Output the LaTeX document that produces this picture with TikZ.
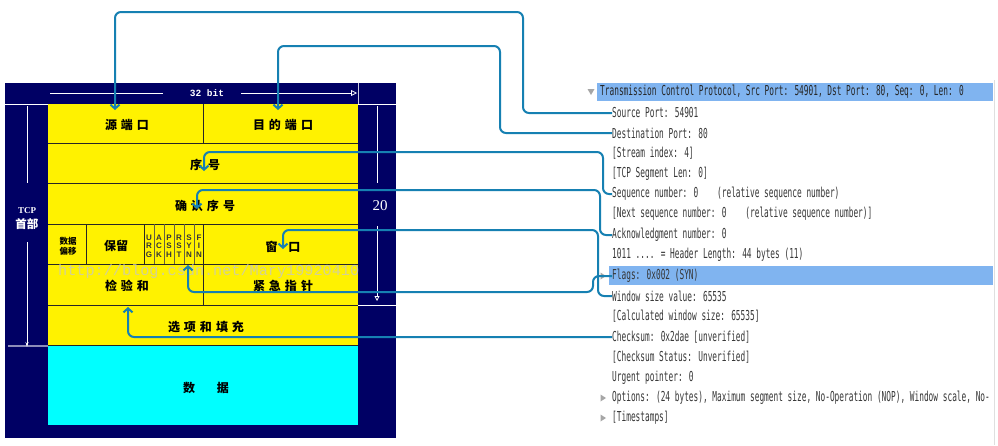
\documentclass[tikz,border=0pt]{standalone}
\usepackage{fontspec}
\setmainfont{Liberation Serif}
\newfontfamily\cjk{Noto Sans CJK SC}
\newfontfamily\wsfont[FakeStretch=0.57]{DejaVu Sans Mono}
\newfontfamily\monofont{Liberation Mono}
\newfontfamily\lsans{Liberation Sans}
\usetikzlibrary{arrows.meta}
\definecolor{navy}{RGB}{0,0,100}
\definecolor{aqua}{RGB}{0,255,255}
\definecolor{linkblue}{RGB}{22,128,178}
\definecolor{hlblue}{RGB}{128,180,240}
\definecolor{txtgray}{RGB}{55,55,55}
\newcommand{\gp}{\hspace{4pt}}
\tikzset{
  connector/.style={draw=linkblue, line width=2pt, rounded corners=6pt,
    -{Straight Barb[length=4pt,width=9pt]}},
  cell/.style={font=\cjk\bfseries\fontsize{12}{12}\selectfont, inner sep=0pt, text=black},
  smallcell/.style={font=\cjk\bfseries\fontsize{8.5}{10}\selectfont, inner sep=0pt, align=center},
  flag/.style={font=\lsans\bfseries\fontsize{8}{8.7}\selectfont, inner sep=0pt, align=center, text=black!80},
  wsline/.style={font=\wsfont\fontsize{13.7}{13.7}\selectfont, text=txtgray, anchor=west, inner sep=0pt},
  tablerule/.style={draw=black!85, line width=0.9pt},
  whiterule/.style={draw=white, line width=0.8pt},
  expander/.style={fill=gray!70, draw=none},
}
\begin{document}
\begin{tikzpicture}[x=1pt,y=-1pt]
\useasboundingbox (0,0) rectangle (998,445);
\fill[white] (0,0) rectangle (998,445);

% ---------- left TCP header diagram ----------
\fill[navy] (5,83) rectangle (396,438);
\fill[yellow] (48,104) rectangle (358,345);
\fill[aqua] (48,345) rectangle (358,425);

% table rules
\foreach \yy in {143,183,224,264,305} \draw[tablerule] (48,\yy) -- (358,\yy);
\draw[tablerule] (48,345) -- (358,345);
\draw[tablerule] (203,104) -- (203,143);
\draw[tablerule] (86,224) -- (86,264);
\draw[tablerule] (144,224) -- (144,264);
\foreach \xx in {154,164,174,184,194} \draw[draw=black!70!yellow, line width=0.8pt] (\xx,224) -- (\xx,264);
\draw[tablerule] (203,224) -- (203,305);

% top row: 32 bit
\draw[whiterule] (50,93) -- (163,93);
\draw[whiterule, -{Triangle[open,length=6pt,width=6pt]}] (241,93) -- (357,93);
\node[font=\monofont\bfseries\fontsize{9.5}{9.5}\selectfont, text=white, inner sep=0pt] (bits) at (207,93) {32 bit};
\draw[draw=white!80!navy, line width=0.6pt] (358,83) -- (358,104);
\draw[whiterule] (5,104) -- (48,104);
\draw[whiterule] (358,104) -- (396,104);
\draw[whiterule] (358,305) -- (396,305);
\draw[draw=white!55!navy, line width=1.2pt] (8,346) -- (48,346);

% left column: TCP header
\draw[whiterule] (27,106) -- (27,183);
\node[font=\bfseries\fontsize{9}{9}\selectfont, text=white, inner sep=0pt] (tcp) at (27,211) {TCP};
\node[font=\cjk\bfseries\fontsize{11.5}{11.5}\selectfont, text=white, inner sep=0pt] (shoubu) at (27,224) {首部};
\draw[whiterule, -{Stealth[length=5pt,width=3pt]}] (27,242) -- (27,347);

% right column: 20
\draw[whiterule] (377,106) -- (377,183);
\node[font=\fontsize{15}{15}\selectfont, text=white, inner sep=0pt] (twenty) at (380,206) {20};
\draw[whiterule, -{Triangle[open,length=5pt,width=5pt]}] (377,226) -- (377,301);

% cell texts
\node[cell] (srcport) at (127,125) {源\gp 端\gp 口};
\node[cell] (dstport) at (283,125) {目\gp 的\gp 端\gp 口};
\node[cell] (seq) at (205,165) {序\hspace{6pt}号};
\node[cell] (ack) at (205,206) {确\gp 认\gp 序\gp 号};
\node[smallcell] (offset) at (68,246) {数据\\偏移};
\node[cell] (resv) at (116,246) {保留};
\node[flag] (furg) at (149,246) {U\\R\\G};
\node[flag] (fack) at (159,246) {A\\C\\K};
\node[flag] (fpsh) at (169,246) {P\\S\\H};
\node[flag] (frst) at (179,246) {R\\S\\T};
\node[flag] (fsyn) at (189,246) {S\\Y\\N};
\node[flag] (ffin) at (199,246) {F\\I\\N};
\node[cell] (window) at (283,247) {窗\hspace{11pt}口};
\node[font=\monofont\fontsize{15.2}{15.2}\selectfont, text=gray!45, opacity=0.75, inner sep=0pt, anchor=west] (wm) at (58,272) {http://blog.csdn.net/Mary19920410};
\node[cell] (checksum) at (127,286) {检\gp 验\gp 和};
\node[cell] (urgent) at (283,286) {紧\gp 急\gp 指\gp 针};
\node[cell] (options) at (206,327) {选\gp 项\gp 和\gp 填\gp 充};
\node[cell] (data) at (206,388) {数\hspace{22pt}据};

% ---------- right Wireshark tree ----------
\fill[hlblue] (597,83) rectangle (993,101);
\fill[hlblue] (609,266) rectangle (993,285);
\draw[draw=gray!25, line width=0.6pt] (994,80) -- (994,445);

\fill[expander] (587.5,89) -- (594.5,89) -- (591,95) -- cycle;
\fill[expander] (600.5,272.5) -- (606,276) -- (600.5,279.5) -- cycle;
\fill[expander] (600.5,394.5) -- (606,398) -- (600.5,401.5) -- cycle;
\fill[expander] (600.5,414.5) -- (606,418) -- (600.5,421.5) -- cycle;

\node[wsline, text=black!85] (hdr) at (600,92) {Transmission Control Protocol, Src Port: 54901, Dst Port: 80, Seq: 0, Len: 0};
\node[wsline] (sp) at (612,113) {Source Port: 54901};
\node[wsline] (dp) at (612,133) {Destination Port: 80};
\node[wsline] (si) at (612,153) {[Stream index: 4]};
\node[wsline] (sl) at (612,174) {[TCP Segment Len: 0]};
\node[wsline] (sn) at (612,194) {Sequence number: 0~~~~(relative sequence number)};
\node[wsline] (ns) at (612,214) {[Next sequence number: 0~~~~(relative sequence number)]};
\node[wsline] (an) at (612,235) {Acknowledgment number: 0};
\node[wsline] (hl) at (612,255) {1011 .... = Header Length: 44 bytes (11)};
\node[wsline] (fl) at (612,276) {Flags: 0x002 (SYN)};
\node[wsline] (wv) at (612,296) {Window size value: 65535};
\node[wsline] (cw) at (612,316) {[Calculated window size: 65535]};
\node[wsline] (cs) at (612,337) {Checksum: 0x2dae [unverified]};
\node[wsline] (cst) at (612,357) {[Checksum Status: Unverified]};
\node[wsline] (up) at (612,378) {Urgent pointer: 0};
\node[wsline] (op) at (612,398) {Options: (24 bytes), Maximum segment size, No-Operation (NOP), Window scale, No-};
\node[wsline] (ts) at (612,418) {[Timestamps]};

% ---------- connectors ----------
\coordinate (a1) at (115,110);
\coordinate (a2) at (278,110);
\coordinate (a3) at (204,171);
\coordinate (a4) at (197,209);
\coordinate (a5) at (283,249);
\coordinate (a6) at (188,265);
\coordinate (a7) at (128,307);

\draw[connector] (sp.west) -- (523,113) -- (523,12) -- (115,12) -- (a1);
\draw[connector] (dp.west) -- (500,133) -- (500,46) -- (278,46) -- (a2);
\draw[connector] (sn.west) -- (603,194) -- (603,152) -- (204,152) -- (a3);
\draw[connector] (an.west) -- (600,235) -- (600,190) -- (197,190) -- (a4);
\draw[connector] (wv.west) -- (598,296) -- (598,230) -- (283,230) -- (a5);
\draw[connector] (fl.west) -- (593,276) -- (593,292) -- (188,292) -- (a6);
\draw[connector] (cs.west) -- (128,337) -- (a7);
\end{tikzpicture}
\end{document}
